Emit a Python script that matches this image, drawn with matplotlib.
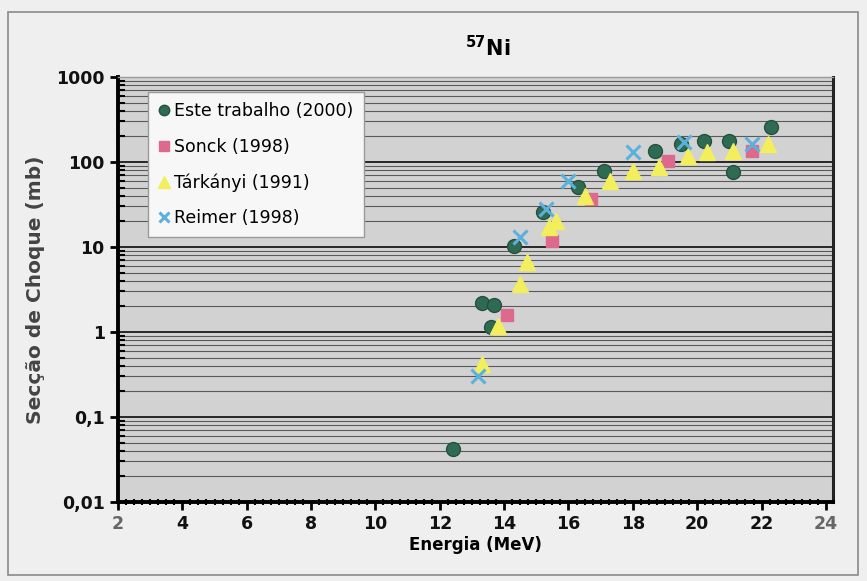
import numpy as np
import matplotlib
matplotlib.use('Agg')
from matplotlib import pyplot as plt
from matplotlib.ticker import FixedLocator, FuncFormatter, MultipleLocator
from matplotlib.patches import Rectangle

plt.rcParams['font.family'] = ['DejaVu Sans']

# secção de choque 57Ni (mb) em função da energia (MeV)
este_x = [12.4, 13.3, 13.7, 13.6, 14.3, 15.2, 16.3, 17.1, 18.7, 19.5, 20.2, 21.0, 21.1, 22.3]
este_y = [0.042, 2.2, 2.1, 1.15, 10.3, 26, 51, 78, 134, 163, 177, 177, 76, 260]

sonck_x = [14.1, 15.5, 16.7, 19.1, 21.7]
sonck_y = [1.6, 11.8, 37, 102, 134]

tark_x = [13.3, 13.8, 14.5, 14.7, 15.4, 15.6, 16.5, 17.3, 18.0, 18.8, 19.7, 20.3, 21.1, 22.2]
tark_y = [0.42, 1.17, 3.7, 6.7, 17, 20, 40, 60, 78, 87, 117, 131, 134, 163]

reimer_x = [13.2, 14.5, 15.3, 16.0, 18.0, 19.6, 21.7]
reimer_y = [0.3, 13, 28, 60, 131, 172, 163]

x_ticks = [2, 4, 6, 8, 10, 12, 14, 16, 18, 20, 22, 24]
y_ticks = [0.01, 0.1, 1, 10, 100, 1000]

fig = plt.figure(figsize=(8.67, 5.81), dpi=100, facecolor='#efefef')
fig.patches.append(Rectangle((8 / 867, 6 / 581), 850 / 867, 563 / 581,
                             transform=fig.transFigure, fill=False,
                             edgecolor='#8a8a8a', lw=1.2))

ax = fig.add_axes([118 / 867, 1 - 502 / 581, 715 / 867, 425 / 581])
ax.set_facecolor('#d2d2d2')
ax.set_yscale('log')
ax.set_xlim(2, 24.22)
ax.set_ylim(0.01, 1000)

# linhas de grelha horizontais (décadas e subdivisões)
ax.yaxis.set_major_locator(FixedLocator(y_ticks))
ax.yaxis.set_minor_locator(FixedLocator([m * 10.0 ** e for e in range(-2, 3) for m in range(2, 10)]))
ax.grid(True, which='major', axis='y', color='#1a1a1a', lw=1.3)
ax.grid(True, which='minor', axis='y', color='#5a5a5a', lw=0.8)
ax.set_axisbelow(True)

ax.plot(este_x, este_y, 'o', color='#2e6b52', ms=10, mec='#24513f', label='Este trabalho (2000)')
ax.plot(sonck_x, sonck_y, 's', color='#dd6a8c', ms=9, mec='#dd6a8c', label='Sonck (1998)')
ax.plot(tark_x, tark_y, '^', color='#f2ee5c', ms=12, mec='#f2ee5c', label='Tárkányi (1991)')
ax.plot(reimer_x, reimer_y, 'x', color='#5cb0dc', ms=10, mew=2.2, label='Reimer (1998)')

ax.xaxis.set_major_locator(FixedLocator(x_ticks))
ax.xaxis.set_minor_locator(MultipleLocator(0.25))
ax.yaxis.set_major_formatter(FuncFormatter(lambda v, p: ('%g' % v).replace('.', ',')))

ax.tick_params(axis='both', which='major', labelsize=12.5, width=2, length=6, direction='out')
ax.tick_params(axis='x', which='minor', width=1.5, length=4, direction='inout')
ax.tick_params(axis='y', which='minor', width=1.5, length=5, direction='in')
for lab in ax.get_xticklabels() + ax.get_yticklabels():
    lab.set_fontweight('bold')
    lab.set_color('#111111')
for lab in (ax.get_xticklabels()[0], ax.get_xticklabels()[-1]):
    lab.set_color('#666666')

ax.spines['left'].set_linewidth(2.8)
ax.spines['bottom'].set_linewidth(2.8)
ax.spines['right'].set_linewidth(2.2)
ax.spines['right'].set_color('#222222')
ax.spines['top'].set_linewidth(1.0)
ax.spines['top'].set_color('#9a9a9a')

ax.set_xlabel('Energia (MeV)', fontsize=12, fontweight='bold', labelpad=2)
ax.set_ylabel('Secção de Choque (mb)', fontsize=14.5, fontweight='bold', color='#444444', labelpad=8)

fig.text(0.562, 0.918, r'$\mathbf{^{57}Ni}$', fontsize=15, ha='center', va='center')

leg = ax.legend(loc='upper left', bbox_to_anchor=(0.03, 0.985), fontsize=12.5,
                frameon=True, fancybox=False, edgecolor='#9a9a9a', framealpha=1,
                facecolor='#f7f7f7', handlelength=0.6, handletextpad=0.3,
                labelspacing=1.0, borderpad=0.6, markerscale=0.75)

fig.savefig('out.png', dpi=100, facecolor=fig.get_facecolor())
